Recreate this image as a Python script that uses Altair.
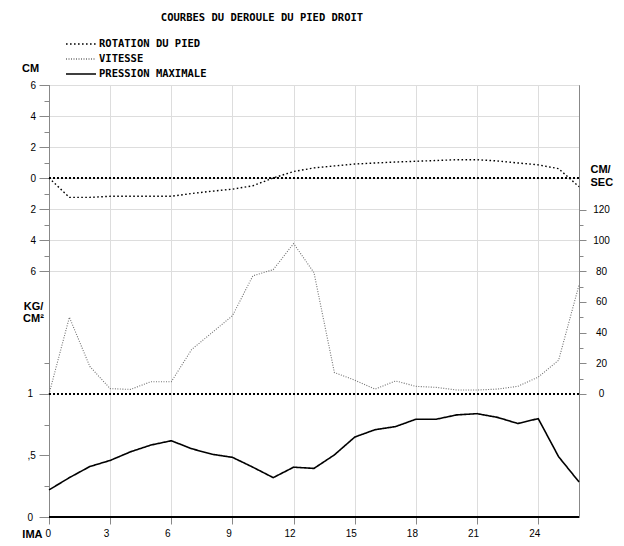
import altair as alt
import pandas as pd

# ---- data ----
t = list(range(27))
rotation = [0, -1.25, -1.25, -1.18, -1.18, -1.18, -1.18, -1.0, -0.85, -0.72, -0.5, 0.0,
            0.42, 0.65, 0.78, 0.9, 0.97, 1.03, 1.08, 1.13, 1.18, 1.18, 1.1, 0.97, 0.85, 0.6, -0.56]
vitesse = [0, 50, 18, 3.5, 3, 8, 8, 29, 40, 51, 77, 81, 98, 79, 14, 9, 3.2, 8.5, 5, 4.3,
           2.6, 2.6, 3.2, 5, 11, 22, 71]
pression = [0.22, 0.32, 0.41, 0.46, 0.53, 0.585, 0.62, 0.555, 0.51, 0.485, 0.405, 0.32,
            0.405, 0.395, 0.505, 0.65, 0.71, 0.735, 0.795, 0.795, 0.83, 0.84, 0.81, 0.76,
            0.80, 0.49, 0.285]
series = ["ROTATION DU PIED", "VITESSE", "PRESSION MAXIMALE"]

x_ticks = [0, 3, 6, 9, 12, 15, 18, 21, 24]
cm_ticks = [-6, -4, -2, 0, 2, 4, 6]
cm_minor = [-5, -3, -1, 1, 3, 5]
p_ticks = [0, 0.5, 1]
p_minor = [0.25, 0.75, 1.25]
v_ticks = [0, 20, 40, 60, 80, 100, 120]
v_minor = [10, 30, 50, 70, 90, 110]

# scale domains chosen so the three scales line up as in the reference
ROT_DOMAIN = [-21.87, 6]
P_DOMAIN = [0, 3.512]
V_DOMAIN = [-80.13, 201.3]

FONT = "DejaVu Sans Mono"

df_rot = pd.DataFrame({"t": t, "val": rotation, "serie": series[0]})
df_vit = pd.DataFrame({"t": t, "val": vitesse, "serie": series[1]})
df_pre = pd.DataFrame({"t": t, "val": pression, "serie": series[2]})

x_enc = alt.X(
    "t:Q",
    scale=alt.Scale(domain=[0, 26], nice=False, zero=False),
    axis=alt.Axis(
        values=x_ticks, tickSize=7, labelPadding=4,
        labelAlign={"condition": {"test": "datum.value == 0", "value": "left"}, "value": "center"},
        labelOffset=-4,
        title="IMA", titleX=-7, titleY=11, titleAlign="right", titleBaseline="top",
    ),
)

leg = alt.Legend(
    orient="none", legendX=16, legendY=-48, title=None,
    symbolType="stroke", symbolSize=900, symbolStrokeWidth=1.4, clipHeight=14,
    labelFont=FONT, labelFontSize=10.5, labelFontWeight="bold", labelColor="black",
    labelOffset=2, rowPadding=1, padding=0,
)
color_enc = alt.Color("serie:N", scale=alt.Scale(domain=series, range=["#000000", "#707070", "#000000"]), legend=leg)
dash_enc = alt.StrokeDash("serie:N", scale=alt.Scale(domain=series, range=[[1.6, 2.4], [1, 1.5], [1, 0]]), legend=leg)

rot_scale = alt.Scale(domain=ROT_DOMAIN, nice=False, zero=False)
p_scale = alt.Scale(domain=P_DOMAIN, nice=False, zero=False)
v_scale = alt.Scale(domain=V_DOMAIN, nice=False, zero=False)

rot_line = alt.Chart(df_rot).mark_line(strokeWidth=1.4).encode(
    x=x_enc,
    y=alt.Y("val:Q", scale=rot_scale, axis=alt.Axis(
        orient="left", values=cm_ticks, labelExpr="abs(datum.value)", tickSize=10,
        labelAlign="left", labelPadding=9, labelBaseline="middle",
        title="CM", titleAngle=0, titleX=-19, titleY=-17, titleAlign="center", titleBaseline="middle")),
    color=color_enc, strokeDash=dash_enc,
)

rot_zero = alt.Chart(df_rot).mark_rule(color="black", strokeDash=[1.6, 2.4], strokeWidth=1.3).encode(
    y=alt.YDatum(0, type="quantitative", scale=rot_scale, axis=alt.Axis(
        orient="left", values=cm_minor, labels=False, tickSize=5, title=None)),
)

pre_line = alt.Chart(df_pre).mark_line(strokeWidth=1.6).encode(
    x=x_enc,
    y=alt.Y("val:Q", scale=p_scale, axis=alt.Axis(
        orient="left", values=p_ticks, tickSize=10,
        labelExpr="datum.value == 0.5 ? ',5' : format(datum.value, 'd')",
        labelAlign="left", labelPadding=12, labelBaseline="middle",
        title=["KG/", "CM²"], titleAngle=0, titleX=-16, titleY=215, titleAlign="center",
        titleBaseline="top", titleLineHeight=12)),
    color=color_enc, strokeDash=dash_enc,
)

pre_base = alt.Chart(df_pre).mark_rule(color="black", strokeWidth=1.5).encode(
    y=alt.YDatum(0, type="quantitative", scale=p_scale, axis=alt.Axis(
        orient="left", values=p_minor, labels=False, tickSize=5, title=None)),
)

vit_line = alt.Chart(df_vit).mark_line(strokeWidth=1.1).encode(
    x=x_enc,
    y=alt.Y("val:Q", scale=v_scale, axis=alt.Axis(
        orient="right", values=v_ticks, tickSize=7, labelAlign="center", labelPadding=15,
        labelBaseline="middle",
        title=["CM/", "SEC"], titleAngle=0, titleX=11, titleY=78, titleAlign="left",
        titleBaseline="top", titleLineHeight=13)),
    color=color_enc, strokeDash=dash_enc,
)

vit_zero = alt.Chart(df_vit).mark_rule(color="black", strokeDash=[1.6, 2.4], strokeWidth=1.3).encode(
    y=alt.YDatum(0, type="quantitative", scale=v_scale, axis=alt.Axis(
        orient="right", values=v_minor, labels=False, tickSize=4, title=None)),
)

chart = alt.layer(
    rot_line, rot_zero, pre_line, pre_base, vit_line, vit_zero
).resolve_scale(
    y="independent"
).resolve_axis(
    y="independent"
).properties(
    width=530, height=432,
    padding={"left": 41, "top": 77, "right": 37, "bottom": 21},
    autosize=alt.AutoSizeParams(type="none"),
    title=alt.TitleParams(
        "COURBES DU DEROULE DU PIED DROIT", font=FONT, fontSize=10.5, fontWeight="bold",
        color="black", anchor="middle", frame="group", dx=-52, offset=14),
).configure_view(
    stroke="black", strokeWidth=1.5
).configure_axis(
    labelFont=FONT, labelFontSize=12, labelFontWeight="bold", labelColor="black",
    titleFont=FONT, titleFontSize=11.5, titleFontWeight="bold", titleColor="black",
    tickColor="black", tickWidth=1.3, domain=False, grid=False,
).configure(background="white")

chart.save("out.html", embed_options={"renderer": "svg", "actions": False})
